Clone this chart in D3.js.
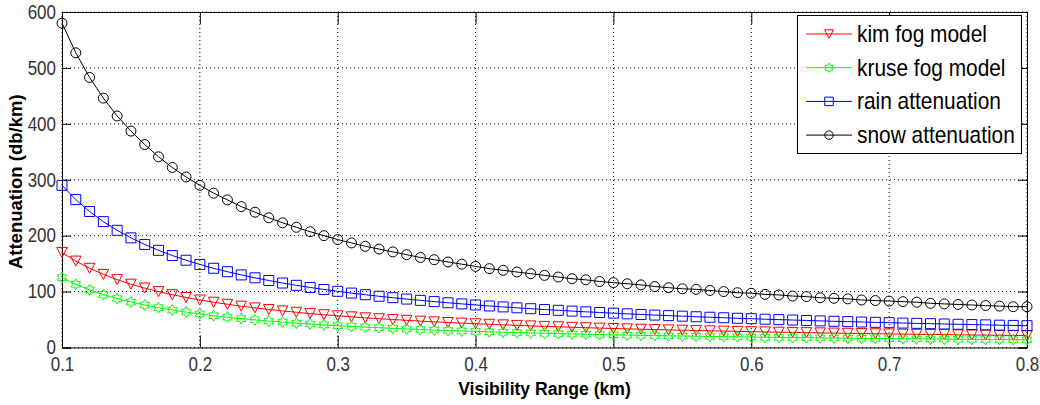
<!DOCTYPE html>
<html lang="en">
  <head>
    <style>
      body { margin: 0; background: #fff; }
      text { font-family: "Liberation Sans", Arial, sans-serif; }
      .grid line { stroke: #000; stroke-dasharray: 1,3; }
      .axis path, .axis line { stroke: #000; }
    </style>
  </head>
  <body>
    <svg id="container" height="405" width="1040"></svg>
  </body>
  <script src="https://d3js.org/d3.v7.min.js"></script>
  <script>
let visibility = [0.10,0.11,0.12,0.13,0.14,0.15,0.16,0.17,0.18,0.19,
    0.20,0.21,0.22,0.23,0.24,0.25,0.26,0.27,0.28,0.29,
    0.30,0.31,0.32,0.33,0.34,0.35,0.36,0.37,0.38,0.39,
    0.40,0.41,0.42,0.43,0.44,0.45,0.46,0.47,0.48,0.49,
    0.50,0.51,0.52,0.53,0.54,0.55,0.56,0.57,0.58,0.59,
    0.60,0.61,0.62,0.63,0.64,0.65,0.66,0.67,0.68,0.69,
    0.70,0.71,0.72,0.73,0.74,0.75,0.76,0.77,0.78,0.79,0.80]

let kimFog = [170,154.5,141.7,130.8,121.4,113.3,106.3,100,94.4,89.5,
    85,81,77.3,73.9,70.8,68,65.4,63,60.7,58.6,
    56.7,54.8,53.1,51.5,50,48.6,47.2,45.9,44.7,43.6,
    42.5,41.5,40.5,39.5,38.6,37.8,37,36.2,35.4,34.7,
    34,33.3,32.7,32.1,31.5,30.9,30.4,29.8,29.3,28.8,
    28.3,27.9,27.4,27,26.6,26.2,25.8,25.4,25,24.6,
    24.3,23.9,23.6,23.3,23,22.7,22.4,22.1,21.8,21.5,21.3]

let kruseFog = [125,113,103,94.6,87.5,81.3,76,71.2,67,63.3,
    60,56.9,54.2,51.7,49.4,47.3,45.4,43.6,42,40.4,
    39,37.7,36.4,35.3,34.2,33.1,32.2,31.2,30.4,29.5,
    28.8,28,27.3,26.6,26,25.4,24.8,24.2,23.7,23.2,
    22.7,22.2,21.8,21.3,20.9,20.5,20.1,19.8,19.4,19,
    18.7,18.4,18.1,17.8,17.5,17.2,16.9,16.6,16.4,16.1,
    15.9,15.7,15.4,15.2,15,14.8,14.6,14.4,14.2,14,13.8]

let rainAtt = [290,264.5,243.2,225.1,209.6,196.1,184.3,173.8,164.5,156.1,
    148.6,141.7,135.5,129.8,124.6,119.8,115.3,111.2,107.4,103.8,
    100.5,97.3,94.4,91.6,89,86.6,84.3,82.1,80,78,
    76.1,74.3,72.6,71,69.4,67.9,66.5,65.1,63.8,62.6,
    61.4,60.2,59.1,58,57,56,55,54.1,53.2,52.3,
    51.5,50.6,49.9,49.1,48.4,47.6,46.9,46.3,45.6,45,
    44.4,43.7,43.2,42.6,42,41.5,41,40.5,39.9,39.5,39]

let snowAtt = [580,527,483,446,414,387,363,341,322,305,
    290,276,264,252,242,232,223,215,207,200,
    193,187,181,176,171,166,161,157,153,149,
    145,141,138,135,132,129,126,123,121,118,
    116,114,112,109,107,105,104,102,100,98,
    97,95,94,92,91,89,88,87,85,84,
    83,82,81,79,78,77,76,75,74,73,73]

let xTicks = [0.1,0.2,0.3,0.4,0.5,0.6,0.7,0.8]
let yTicks = [0,100,200,300,400,500,600]

let seriesNames = ["kim fog model","kruse fog model","rain attenuation","snow attenuation"]
let seriesValues = [kimFog, kruseFog, rainAtt, snowAtt]
let seriesColors = ["#ff0000","#00ff00","#0000ff","#000000"]
let seriesMarkers = ["triangleDown","hexagram","square","circle"]

let svg = d3.select("#container")
let plotLeft = 62, plotRight = 1027, plotTop = 12, plotBottom = 347.5

let x = d3.scaleLinear().domain([0.1, 0.8]).range([plotLeft, plotRight])
let y = d3.scaleLinear().domain([0, 600]).range([plotBottom, plotTop])

svg.append("rect").attr("width", 1040).attr("height", 405).attr("fill", "#fff")

// dotted grid
let grid = svg.append("g").attr("class", "grid")
grid.selectAll(".gx").data(xTicks).enter().append("line")
    .attr("x1", d => x(d)).attr("x2", d => x(d))
    .attr("y1", plotTop).attr("y2", plotBottom)
grid.selectAll(".gy").data(yTicks).enter().append("line")
    .attr("x1", plotLeft).attr("x2", plotRight)
    .attr("y1", d => y(d)).attr("y2", d => y(d))

// axes with inward ticks
svg.append("g").attr("class", "axis")
    .attr("transform", `translate(0,${plotBottom})`)
    .call(d3.axisBottom(x).tickValues(xTicks).tickSize(-12).tickPadding(10).tickFormat(d3.format(".1f")))
svg.append("g").attr("class", "axis")
    .attr("transform", `translate(${plotLeft},0)`)
    .call(d3.axisLeft(y).tickValues(yTicks).tickSize(-9).tickPadding(7))
svg.append("g").attr("class", "axis")
    .attr("transform", `translate(0,${plotTop})`)
    .call(d3.axisTop(x).tickValues(xTicks).tickSize(-12).tickFormat(""))
svg.append("g").attr("class", "axis")
    .attr("transform", `translate(${plotRight},0)`)
    .call(d3.axisRight(y).tickValues(yTicks).tickSize(-9).tickFormat(""))

svg.selectAll(".axis .domain").attr("stroke", "#000")
svg.selectAll(".axis text")
    .attr("font-size", 19.5)
    .attr("font-family", "'Liberation Sans', Arial, sans-serif")
    .attr("fill", "#333")
    .attr("transform", "scale(0.87,1)")

// axis titles
svg.append("text")
    .attr("x", (plotLeft + plotRight) / 2).attr("y", 395)
    .attr("text-anchor", "middle")
    .attr("font-size", 17.6).attr("font-weight", "bold")
    .text("Visibility Range (km)")
svg.append("text")
    .attr("transform", `translate(22,${(plotTop + plotBottom) / 2 + 2}) rotate(-90)`)
    .attr("text-anchor", "middle")
    .attr("font-size", 18.5).attr("font-weight", "bold")
    .text("Attenuation (db/km)")

function hexagram(R) {
    let r = R / Math.sqrt(3)
    let pts = d3.range(12).map(k => {
        let a = -Math.PI / 2 + k * Math.PI / 6
        let rad = k % 2 === 0 ? R : r
        return [rad * Math.cos(a), rad * Math.sin(a)]
    })
    return "M" + pts.join("L") + "Z"
}

function markerPath(kind, s) {
    s = s || 1
    if (kind === "triangleDown") return `M${-5.3 * s},${-5 * s} L${5.3 * s},${-5 * s} L0,${5 * s} Z`
    if (kind === "square") return `M${-5 * s},${-5 * s} H${5 * s} V${5 * s} H${-5 * s} Z`
    if (kind === "circle") return d3.symbol(d3.symbolCircle, 78 * s * s)()
    return hexagram(5.5 * s)
}

let line = d3.line().x(d => x(d[0])).y(d => y(d[1]))
let plot = svg.append("g")

seriesValues.forEach((vals, i) => {
    let pts = visibility.map((v, j) => [v, vals[j]])
    let g = plot.append("g")
    g.append("path")
        .attr("d", line(pts))
        .attr("fill", "none")
        .attr("stroke", seriesColors[i])
        .attr("stroke-width", 1)
    g.selectAll("path.m").data(pts).enter().append("path")
        .attr("class", "m")
        .attr("d", markerPath(seriesMarkers[i]))
        .attr("transform", d => `translate(${x(d[0])},${y(d[1])})`)
        .attr("fill", "none")
        .attr("stroke", seriesColors[i])
        .attr("stroke-width", 1)
})

// legend
let legend = svg.append("g")
legend.append("rect")
    .attr("x", 797.5).attr("y", 15.5).attr("width", 224).attr("height", 138)
    .attr("fill", "#fff").attr("stroke", "#000")
seriesNames.forEach((name, i) => {
    let ly = 34 + i * 33.7
    legend.append("line")
        .attr("x1", 806).attr("x2", 852).attr("y1", ly).attr("y2", ly)
        .attr("stroke", seriesColors[i])
    legend.append("path")
        .attr("d", markerPath(seriesMarkers[i], 0.85))
        .attr("transform", `translate(829,${ly})`)
        .attr("fill", "none").attr("stroke", seriesColors[i])
    legend.append("text")
        .attr("transform", `translate(857,${ly + 8}) scale(0.87,1)`)
        .attr("font-size", 24)
        .attr("fill", "#000")
        .text(name)
})
  </script>
</html>
